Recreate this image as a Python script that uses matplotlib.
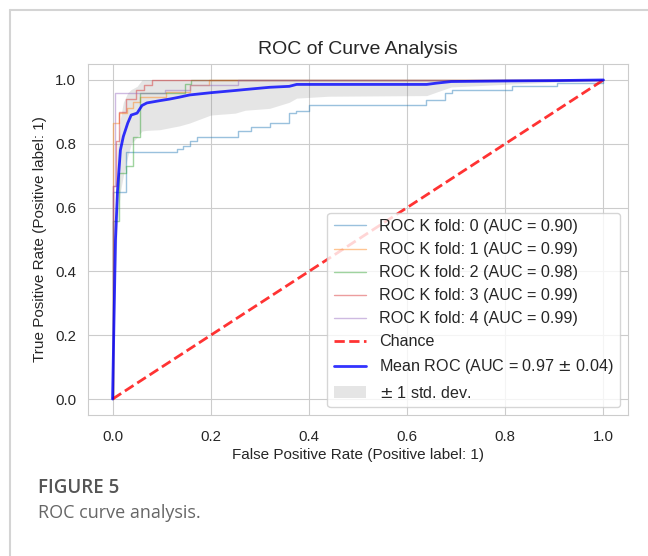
import numpy as np
import matplotlib
matplotlib.use("Agg")
import matplotlib.pyplot as plt
import seaborn as sns

# %%
# ROC points (fpr where tpr jumps, tpr after the jump)
fold_names = ["ROC K fold: 0", "ROC K fold: 1", "ROC K fold: 2", "ROC K fold: 3", "ROC K fold: 4"]
fold_auc = [0.90, 0.99, 0.98, 0.99, 0.99]

fold0_fpr = [0, 0, 0.028, 0.132, 0.143, 0.157, 0.173, 0.255, 0.282, 0.32, 0.36, 0.374, 0.40, 0.639, 0.678, 0.692, 0.814, 0.906, 1.0]
fold0_tpr = [0, 0.65, 0.773, 0.783, 0.794, 0.81, 0.82, 0.84, 0.852, 0.865, 0.896, 0.904, 0.92, 0.9375, 0.96, 0.969, 0.98, 0.99, 1.0]

fold1_fpr = [0, 0, 0.014, 0.03, 0.041, 0.055, 0.108, 0.157, 0.197, 1.0]
fold1_tpr = [0, 0.865, 0.896, 0.913, 0.932, 0.946, 0.963, 0.984, 1.0, 1.0]

fold2_fpr = [0, 0, 0.013, 0.028, 0.041, 0.055, 0.147, 0.16, 1.0]
fold2_tpr = [0, 0.557, 0.708, 0.73, 0.82, 0.958, 0.987, 1.0, 1.0]

fold3_fpr = [0, 0, 0.008, 0.014, 0.028, 0.048, 0.065, 0.081, 1.0]
fold3_tpr = [0, 0.667, 0.81, 0.9, 0.94, 0.969, 0.984, 1.0, 1.0]

fold4_fpr = [0, 0, 0.006, 0.106, 0.157, 0.255, 1.0]
fold4_tpr = [0, 0.667, 0.958, 0.969, 0.984, 1.0, 1.0]

# mean ROC and +/- 1 std band
mean_fpr = [0, 0.006, 0.01, 0.016, 0.022, 0.031, 0.038, 0.05, 0.06, 0.07, 0.096, 0.116, 0.136, 0.157,
            0.2, 0.25, 0.27, 0.32, 0.36, 0.375, 0.44, 0.64, 0.66, 0.69, 0.81, 0.9, 1.0]
mean_tpr = [0, 0.5, 0.65, 0.78, 0.823, 0.865, 0.89, 0.896, 0.92, 0.928, 0.935, 0.94, 0.946, 0.953,
            0.96, 0.967, 0.97, 0.977, 0.98, 0.986, 0.986, 0.986, 0.99, 0.995, 0.997, 0.998, 1.0]
tpr_lower = [0, 0.4, 0.55, 0.65, 0.7, 0.76, 0.8, 0.82, 0.84, 0.842, 0.844, 0.85, 0.856, 0.865,
             0.89, 0.896, 0.905, 0.911, 0.93, 0.943, 0.949, 0.951, 0.962, 0.978, 0.987, 0.993, 1.0]
tpr_upper = [0, 0.62, 0.78, 0.88, 0.93, 0.96, 0.97, 0.98, 1.0, 1.0, 1.0, 1.0, 1.0, 1.0,
             1.0, 1.0, 1.0, 1.0, 1.0, 1.0, 1.0, 1.0, 1.0, 1.0, 1.0, 1.0, 1.0]
mean_auc = 0.97
std_auc = 0.04

# %%
sns.set_style("whitegrid")
plt.rcParams['font.family'] = ['Liberation Sans', 'DejaVu Sans']
plt.rcParams['text.color'] = '.15'
plt.rcParams['axes.labelcolor'] = '.15'
plt.rcParams['xtick.color'] = '.15'
plt.rcParams['ytick.color'] = '.15'

fig = plt.figure(figsize=(6.48, 5.56), dpi=100)
ax = fig.add_axes([88 / 648, 1 - 415 / 556, 540 / 648, 351 / 556])

fold_fprs = [fold0_fpr, fold1_fpr, fold2_fpr, fold3_fpr, fold4_fpr]
fold_tprs = [fold0_tpr, fold1_tpr, fold2_tpr, fold3_tpr, fold4_tpr]
fold_colors = ['tab:blue', 'tab:orange', 'tab:green', 'tab:red', 'tab:purple']
for i in range(5):
    ax.plot(fold_fprs[i], fold_tprs[i], drawstyle='steps-post', lw=1, alpha=0.45,
            color=fold_colors[i], label=f"{fold_names[i]} (AUC = {fold_auc[i]:.2f})")

ax.plot([0, 1], [0, 1], linestyle='--', lw=2, color='r', alpha=0.8, label='Chance')
ax.plot(mean_fpr, mean_tpr, color='b', lw=2, alpha=0.8,
        label=r"Mean ROC (AUC = %0.2f $\pm$ %0.2f)" % (mean_auc, std_auc))
ax.fill_between(mean_fpr, tpr_lower, tpr_upper, color='grey', alpha=0.2, lw=0,
                label=r"$\pm$ 1 std. dev.")

ax.set_xlim(-0.05, 1.05)
ax.set_ylim(-0.05, 1.05)
ax.set_xticks([0, 0.2, 0.4, 0.6, 0.8, 1.0])
ax.set_yticks([0, 0.2, 0.4, 0.6, 0.8, 1.0])
ax.tick_params(axis='x', labelsize=10.8, pad=10.5, length=0)
ax.tick_params(axis='y', labelsize=10.8, pad=8.5, length=0)
ax.set_xlabel('False Positive Rate (Positive label: 1)', fontsize=11, labelpad=3)
ax.set_ylabel('True Positive Rate (Positive label: 1)', fontsize=11, labelpad=5.5)
ax.set_title('ROC of Curve Analysis', fontsize=14, pad=7)
ax.legend(loc='lower right', fontsize=11.6, frameon=True)

# page frame and caption
fig.add_artist(plt.Line2D([10 / 648, 10 / 648], [0, 1 - 10 / 556], color='#d4d4d4', lw=1.5))
fig.add_artist(plt.Line2D([10 / 648, 1], [1 - 10 / 556, 1 - 10 / 556], color='#d4d4d4', lw=1.5))
fig.text(38 / 648, 1 - 488 / 556, 'FIGURE 5', family='Open Sans', fontweight='semibold',
         fontsize=13.5, color='#555555', va='center')
fig.text(38 / 648, 1 - 513 / 556, 'ROC curve analysis.', family='Open Sans',
         fontsize=13, color='#666666', va='center')

fig.savefig('out.png', dpi=100)
